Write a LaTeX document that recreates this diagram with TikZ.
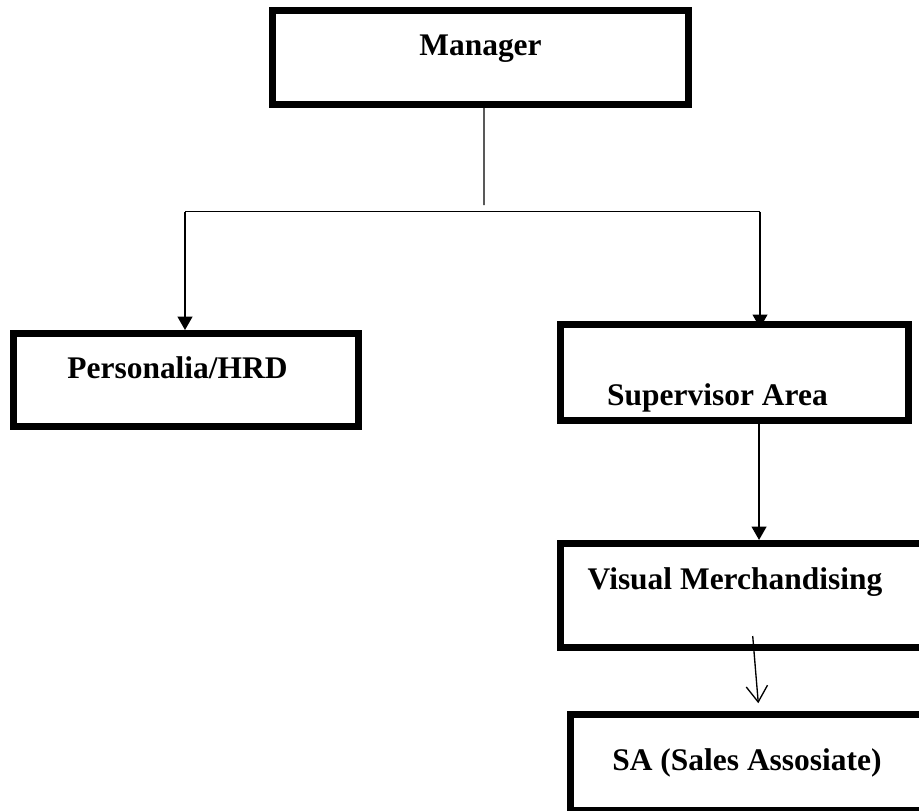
\documentclass[tikz,border=0pt]{standalone}
\usepackage{fontspec}
\setmainfont{Liberation Serif}
\usetikzlibrary{arrows.meta}

\begin{document}
\begin{tikzpicture}[x=0.75pt,y=0.75pt,yscale=-1,xscale=1,
  orgbox/.style={draw, line width=5pt, inner sep=0pt},
  orgtext/.style={anchor=base, inner sep=0pt, font=\fontsize{23.6}{28}\selectfont\bfseries},
  conn/.style={line width=1pt},
  arr/.style={line width=1.5pt, -{Triangle[length=10pt,width=11pt]}},
  thinarr/.style={line width=1pt, -{Straight Barb[length=12pt,width=16pt]}}]
\useasboundingbox (0,0) rectangle (919,810);

%Boxes
\node [orgbox, minimum width=312.3pt, minimum height=70.8pt] (mgr) at (480.5,57.5) {};
\node [orgbox, minimum width=259pt, minimum height=70pt] (hrd) at (186,380) {};
\node [orgbox, minimum width=261.3pt, minimum height=72.3pt] (spv) at (734.5,372.5) {};
\node [orgbox, minimum width=277.3pt, minimum height=78.3pt] (vm) at (745.15,595.5) {};
\node [orgbox, minimum width=269.8pt, minimum height=71.8pt] (sa) at (750.15,762.15) {};

%Branch points
\coordinate (split) at (484,205);
\coordinate (barL) at (185,211.7);
\coordinate (barR) at (760,211.7);
\coordinate (vmstub) at (752.7,636);

%Straight Lines
\draw [conn] ([xshift=2.6pt]mgr.south) -- (split);
\draw [conn] (barL) -- (barR);
\draw [arr] (barL) -- (barL |- hrd.north);
\draw [arr, shorten >=-5.2pt] (barR) -- (barR |- spv.north);
\draw [arr] ([xshift=18.4pt]spv.south) -- ([xshift=18.4pt]spv.south |- vm.north);
\draw [thinarr] (vmstub) -- ([xshift=6.1pt,yshift=-5.8pt]sa.north);

% Text Node
\node [orgtext] (mgrtxt) at (480.5,55) {Manager};
% Text Node
\node [orgtext] (hrdtxt) at (177.5,378) {Personalia/HRD};
% Text Node
\node [orgtext] (spvtxt) at (717.5,405) {Supervisor Area};
% Text Node
\node [orgtext] (vmtxt) at (735,589) {Visual Merchandising};
% Text Node
\node [orgtext] (satxt) at (747,770) {SA (Sales Assosiate)};

\end{tikzpicture}
\end{document}
